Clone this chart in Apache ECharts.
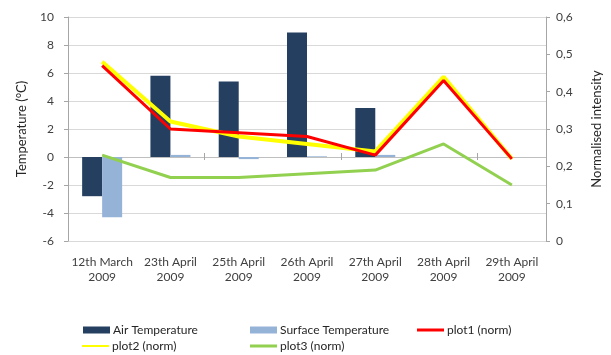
<!DOCTYPE html>
<html>
<head>
<meta charset="utf-8">
<script src="https://cdn.jsdelivr.net/npm/echarts@6/dist/echarts.min.js"></script>
<style>
html,body{margin:0;padding:0;background:#fff;}
#chart{width:611px;height:355px;}
</style>
</head>
<body>
<div id="chart"></div>
<script>
const categories = ['12th March\n2009','23th April\n2009','25th April\n2009','26th April\n2009','27th April\n2009','28th April\n2009','29th April\n2009'];
const airTemperature = [-2.8, 5.8, 5.4, 8.9, 3.5, null, null];
const surfaceTemperature = [-4.3, 0.15, -0.15, 0.05, 0.15, null, null];
const plot1 = [0.47, 0.30, 0.29, 0.28, 0.23, 0.43, 0.22];
const plot2 = [0.48, 0.32, 0.28, 0.26, 0.24, 0.44, 0.22];
const plot3 = [0.23, 0.17, 0.17, 0.18, 0.19, 0.26, 0.15];
const leftTicks = {min: -6, max: 10, interval: 2};
const rightTicks = {min: 0, max: 0.6, interval: 0.1};

const FONT = 'Lato, "Open Sans", sans-serif';
const chart = echarts.init(document.getElementById('chart'), null, {renderer: 'canvas'});

function leg(name, left, top, icon, h) {
  return {
    data: [name], left: left, top: top, icon: icon, itemWidth: 27, itemHeight: h,
    itemGap: 0, padding: 0, selectedMode: false,
    textStyle: {fontFamily: FONT, fontSize: 12, color: '#262626', padding: [0, 0, 0, -2]}
  };
}

const option = {
  animation: false,
  backgroundColor: '#fff',
  grid: {left: 68, right: 64, top: 17, bottom: 114, containLabel: false},
  legend: [
    leg('Air Temperature', 83, 324, 'rect', 7),
    leg('Surface Temperature', 250, 324, 'rect', 7),
    leg('plot1 (norm)', 417, 324, 'rect', 3),
    leg('plot2 (norm)', 82, 340, 'rect', 2),
    leg('plot3 (norm)', 250, 340, 'rect', 3)
  ],
  xAxis: [
    {
      type: 'category', data: categories, position: 'bottom',
      axisLine: {show: false, onZero: false}, axisTick: {show: false},
      axisLabel: {fontFamily: FONT, fontSize: 12, color: '#404040', margin: 14, lineHeight: 15, interval: 0}
    },
    {
      type: 'category', data: categories, position: 'bottom',
      axisLine: {show: true, onZero: true, onZeroAxisIndex: 0, lineStyle: {color: '#BFBFBF', width: 1}},
      axisTick: {show: true, length: 3, lineStyle: {color: '#A6A6A6'}},
      axisLabel: {show: false}
    },
    {
      type: 'category', data: categories, position: 'top',
      axisLine: {show: false, onZero: true, onZeroAxisIndex: 0},
      axisTick: {show: true, length: 4, lineStyle: {color: '#A6A6A6'}},
      axisLabel: {show: false}
    }
  ],
  yAxis: [
    {
      type: 'value', min: leftTicks.min, max: leftTicks.max, interval: leftTicks.interval,
      name: 'Temperature (°C)', nameLocation: 'middle', nameGap: 40, nameRotate: 90,
      nameTextStyle: {fontFamily: FONT, fontSize: 13, color: '#262626'},
      axisLine: {show: true, lineStyle: {color: '#A6A6A6'}},
      axisTick: {show: true, length: 4, lineStyle: {color: '#A6A6A6'}},
      axisLabel: {fontFamily: FONT, fontSize: 12, color: '#404040', margin: 14},
      splitLine: {show: true, lineStyle: {color: '#D9D9D9', width: 1}}
    },
    {
      type: 'value', min: rightTicks.min, max: rightTicks.max, interval: rightTicks.interval,
      position: 'right',
      name: 'Normalised intensity', nameLocation: 'middle', nameGap: 44, nameRotate: 90,
      nameTextStyle: {fontFamily: FONT, fontSize: 13, color: '#262626'},
      axisLine: {show: true, lineStyle: {color: '#A6A6A6'}},
      axisTick: {show: true, length: 4, lineStyle: {color: '#A6A6A6'}},
      axisLabel: {fontFamily: FONT, fontSize: 12, color: '#404040', margin: 10,
        formatter: v => v === 0 ? '0' : v.toFixed(1).replace('.', ',')},
      splitLine: {show: false}
    }
  ],
  series: [
    {name: 'Air Temperature', type: 'bar', data: airTemperature, xAxisIndex: 0, yAxisIndex: 0,
      barWidth: 20, barGap: '0%', itemStyle: {color: '#243F60'}},
    {name: 'Surface Temperature', type: 'bar', data: surfaceTemperature, xAxisIndex: 0, yAxisIndex: 0,
      barWidth: 20, barGap: '0%', itemStyle: {color: '#95B3D7'}},
    {name: 'plot1 (norm)', type: 'line', data: plot1, xAxisIndex: 0, yAxisIndex: 1, z: 4,
      symbol: 'none', lineStyle: {color: '#FF0000', width: 3}, itemStyle: {color: '#FF0000'}},
    {name: 'plot2 (norm)', type: 'line', data: plot2, xAxisIndex: 0, yAxisIndex: 1, z: 3,
      symbol: 'none', lineStyle: {color: '#FFFF00', width: 4}, itemStyle: {color: '#FFFF00'}},
    {name: 'plot3 (norm)', type: 'line', data: plot3, xAxisIndex: 0, yAxisIndex: 1, z: 3,
      symbol: 'none', lineStyle: {color: '#92D050', width: 3}, itemStyle: {color: '#92D050'}}
  ]
};
chart.setOption(option);
</script>
</body>
</html>
